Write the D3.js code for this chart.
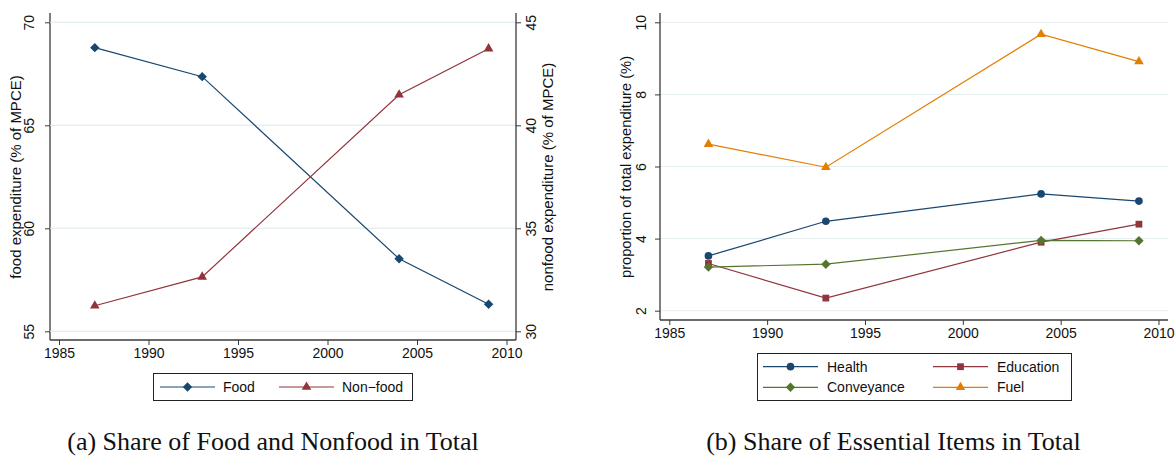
<!DOCTYPE html>
<html>
<head>
<meta charset="utf-8">
<script src="https://cdn.jsdelivr.net/npm/d3@7"></script>
<style>
  body { margin: 0; background: #fff; }
  svg { display: block; }
</style>
</head>
<body>
<div id="chart"></div>
<script>
// data
const years = [1987, 1993, 2004, 2009];
const food = [68.77, 67.36, 58.52, 56.31];
const nonFood = [31.24, 32.64, 41.48, 43.72];
const health = [3.52, 4.48, 5.24, 5.04];
const education = [3.31, 2.35, 3.90, 4.40];
const conveyance = [3.21, 3.29, 3.95, 3.94];
const fuel = [6.62, 5.98, 9.67, 8.91];
const xTicks = [1985, 1990, 1995, 2000, 2005, 2010];
const foodTicks = [55, 60, 65, 70];
const nonFoodTicks = [30, 35, 40, 45];
const shareTicks = [2, 4, 6, 8, 10];

const navy = "#1a476f", maroon = "#90353b", green = "#55752f", orange = "#e37e00";
const axisColor = "#3a3a3a", gridColor = "#e4eef1";
const sans = "'Liberation Sans', Arial, sans-serif";
const serif = "'Liberation Serif', 'DejaVu Serif', serif";

const svg = d3.select("#chart")
    .append("svg")
    .attr("width", 1175)
    .attr("height", 461)
    .attr("font-family", sans);

// marker shapes (diamond = rotated square, like Stata)
const sym = {
    diamond: { s: d3.symbol().type(d3.symbolSquare).size(44), rot: 45 },
    triangle: { s: d3.symbol().type(d3.symbolTriangle).size(40), rot: 0 },
    circle: { s: d3.symbol().type(d3.symbolCircle).size(46), rot: 0 },
    square: { s: d3.symbol().type(d3.symbolSquare).size(46), rot: 0 }
};
function marker(g, type, color, x, y) {
    g.append("path")
        .attr("d", sym[type].s())
        .attr("transform", `translate(${x},${y}) rotate(${sym[type].rot})`)
        .attr("fill", color);
}

function drawSeries(g, x, y, vals, color, type) {
    const pts = years.map((yr, i) => [x(yr), y(vals[i])]);
    g.append("path")
        .attr("d", d3.line()(pts))
        .attr("fill", "none")
        .attr("stroke", color)
        .attr("stroke-width", 1.2);
    pts.forEach(p => marker(g, type, color, p[0], p[1]));
}

function xAxis(g, x, yPos, left, right) {
    g.append("line")
        .attr("x1", left).attr("x2", right)
        .attr("y1", yPos).attr("y2", yPos)
        .attr("stroke", axisColor).attr("stroke-width", 1.3);
    const ax = g.append("g")
        .attr("transform", `translate(0,${yPos})`)
        .call(d3.axisBottom(x).tickValues(xTicks).tickFormat(d3.format("d")).tickSize(5).tickPadding(3));
    ax.select(".domain").remove();
    ax.selectAll("line").attr("stroke", axisColor);
    ax.selectAll("text").attr("font-size", 14).attr("font-family", sans).attr("fill", "#111");
}

function yAxis(g, y, xPos, top, bottom, ticks, side, gridL, gridR, labelOff) {
    // grid lines
    g.append("g").selectAll("line")
        .data(ticks)
        .enter().append("line")
        .attr("x1", gridL).attr("x2", gridR)
        .attr("y1", d => y(d)).attr("y2", d => y(d))
        .attr("stroke", gridColor).attr("stroke-width", 1);
    g.append("line")
        .attr("x1", xPos).attr("x2", xPos)
        .attr("y1", top).attr("y2", bottom)
        .attr("stroke", axisColor).attr("stroke-width", 1.3);
    const axisFn = side === "left" ? d3.axisLeft(y) : d3.axisRight(y);
    const ax = g.append("g")
        .attr("transform", `translate(${xPos},0)`)
        .call(axisFn.tickValues(ticks).tickSize(5).tickFormat(d3.format("d")));
    ax.select(".domain").remove();
    ax.selectAll("line").attr("stroke", axisColor);
    ax.selectAll("text")
        .attr("font-size", 14).attr("font-family", sans).attr("fill", "#111")
        .attr("text-anchor", "middle")
        .attr("x", null)
        .attr("transform", `translate(${labelOff},0) rotate(-90)`)
        .attr("y", 0)
        .attr("dy", "0.35em");
}

function axisTitle(g, text, x, y, size) {
    g.append("text")
        .attr("transform", `translate(${x},${y}) rotate(-90)`)
        .attr("text-anchor", "middle")
        .attr("dy", "0.35em")
        .attr("font-size", size)
        .attr("fill", "#111")
        .text(text);
}

// ---- panel (a)
const ga = svg.append("g");
const xa = d3.scaleLinear().domain([1985, 2010]).range([59, 506.5]);
const yFood = d3.scaleLinear().domain([55, 70]).range([331.3, 22.3]);
const yNon = d3.scaleLinear().domain([30, 45]).range([331.3, 22.3]);

yAxis(ga, yFood, 50, 13, 340, foodTicks, "left", 50, 516, -21);
yAxis(ga, yNon, 516, 13, 340, nonFoodTicks, "right", 50, 516, 15);
xAxis(ga, xa, 340, 50, 516);
axisTitle(ga, "food expenditure (% of MPCE)", 16, 177, 15);
axisTitle(ga, "nonfood expenditure (% of MPCE)", 548, 177, 15);

drawSeries(ga, xa, yFood, food, navy, "diamond");
drawSeries(ga, xa, yNon, nonFood, maroon, "triangle");

// legend (a)
const la = ga.append("g");
la.append("rect").attr("x", 153.5).attr("y", 373.5).attr("width", 259).attr("height", 27)
    .attr("fill", "#fff").attr("stroke", "#222").attr("stroke-width", 1);
[
    { name: "Food", color: navy, type: "diamond", x0: 160 },
    { name: "Non\u2212food", color: maroon, type: "triangle", x0: 279 }
].forEach(d => {
    la.append("line").attr("x1", d.x0).attr("x2", d.x0 + 55).attr("y1", 387).attr("y2", 387)
        .attr("stroke", d.color).attr("stroke-width", 1.2);
    marker(la, d.type, d.color, d.x0 + 27.5, 387);
    la.append("text").attr("x", d.x0 + 63).attr("y", 387).attr("dy", "0.35em")
        .attr("font-size", 14).attr("fill", "#111").text(d.name);
});

// ---- panel (b)
const gb = svg.append("g");
const xb = d3.scaleLinear().domain([1985, 2010]).range([669.3, 1158.5]);
const yShare = d3.scaleLinear().domain([2, 10]).range([310.7, 22.3]);

yAxis(gb, yShare, 660, 13, 320, shareTicks, "left", 660, 1168, -19);
xAxis(gb, xb, 320, 660, 1168);
axisTitle(gb, "proportion of total expenditure (%)", 626, 167, 14.7);

drawSeries(gb, xb, yShare, fuel, orange, "triangle");
drawSeries(gb, xb, yShare, health, navy, "circle");
drawSeries(gb, xb, yShare, education, maroon, "square");
drawSeries(gb, xb, yShare, conveyance, green, "diamond");

// legend (b)
const lb = gb.append("g");
lb.append("rect").attr("x", 757.5).attr("y", 353.5).attr("width", 314).attr("height", 47)
    .attr("fill", "#fff").attr("stroke", "#222").attr("stroke-width", 1);
[
    { name: "Health", color: navy, type: "circle", x0: 763, y: 366.7 },
    { name: "Education", color: maroon, type: "square", x0: 933, y: 366.7 },
    { name: "Conveyance", color: green, type: "diamond", x0: 763, y: 387.3 },
    { name: "Fuel", color: orange, type: "triangle", x0: 933, y: 387.3 }
].forEach(d => {
    lb.append("line").attr("x1", d.x0).attr("x2", d.x0 + 55).attr("y1", d.y).attr("y2", d.y)
        .attr("stroke", d.color).attr("stroke-width", 1.2);
    marker(lb, d.type, d.color, d.x0 + 27.5, d.y);
    lb.append("text").attr("x", d.x0 + 64).attr("y", d.y).attr("dy", "0.35em")
        .attr("font-size", 14).attr("fill", "#111").text(d.name);
});

// captions
svg.append("text").attr("x", 273).attr("y", 450).attr("text-anchor", "middle")
    .attr("font-family", serif).attr("font-size", 26).attr("fill", "#111")
    .text("(a) Share of Food and Nonfood in Total");
svg.append("text").attr("x", 893.5).attr("y", 450).attr("text-anchor", "middle")
    .attr("font-family", serif).attr("font-size", 26).attr("fill", "#111")
    .text("(b) Share of Essential Items in Total");
</script>
</body>
</html>
